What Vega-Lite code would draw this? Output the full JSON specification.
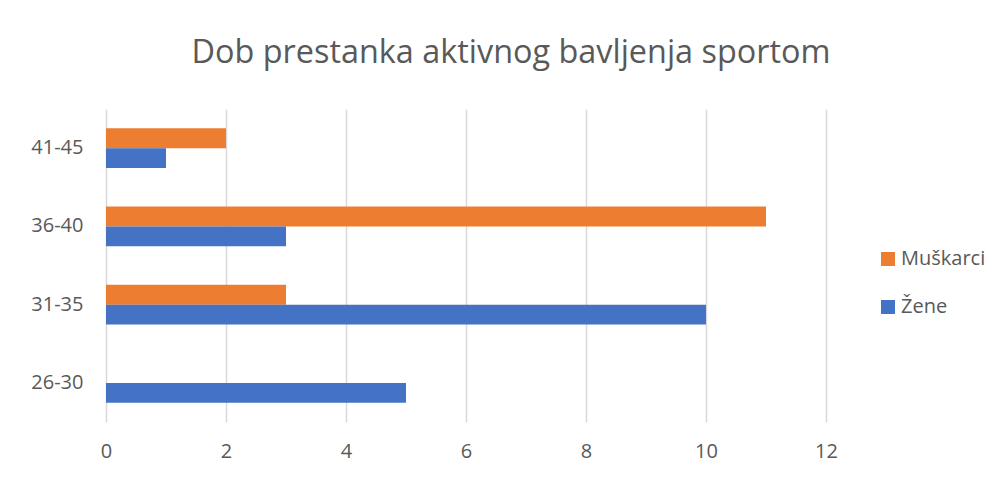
{
  "$schema": "https://vega.github.io/schema/vega-lite/v6.json",
  "autosize": {"type": "none"},
  "width": 720,
  "height": 313,
  "padding": {"left": 106, "top": 109, "right": 176, "bottom": 55},
  "background": "white",
  "title": {
    "text": "Dob prestanka aktivnog bavljenja sportom",
    "font": "Open Sans",
    "fontSize": 32.4,
    "fontWeight": "normal",
    "color": "#595959",
    "anchor": "middle",
    "frame": "group",
    "dx": 45,
    "offset": 14,
    "baseline": "alphabetic"
  },
  "data": {
    "values": [
      {"dob": "41-45", "spol": "Muškarci", "broj": 2},
      {"dob": "41-45", "spol": "Žene", "broj": 1},
      {"dob": "36-40", "spol": "Muškarci", "broj": 11},
      {"dob": "36-40", "spol": "Žene", "broj": 3},
      {"dob": "31-35", "spol": "Muškarci", "broj": 3},
      {"dob": "31-35", "spol": "Žene", "broj": 10},
      {"dob": "26-30", "spol": "Muškarci", "broj": 0},
      {"dob": "26-30", "spol": "Žene", "broj": 5}
    ]
  },
  "mark": {"type": "bar"},
  "encoding": {
    "y": {
      "field": "dob",
      "type": "nominal",
      "sort": ["41-45", "36-40", "31-35", "26-30"],
      "scale": {"paddingInner": 0.49, "paddingOuter": 0.245},
      "axis": {
        "title": null,
        "domain": false,
        "ticks": false,
        "grid": false,
        "labelFont": "Open Sans",
        "labelFontSize": 20,
        "labelColor": "#595959",
        "labelPadding": 23
      }
    },
    "yOffset": {
      "field": "spol",
      "type": "nominal",
      "sort": ["Muškarci", "Žene"],
      "scale": {"paddingInner": 0, "paddingOuter": 0}
    },
    "x": {
      "field": "broj",
      "type": "quantitative",
      "scale": {"domain": [0, 12], "nice": false},
      "axis": {
        "title": null,
        "values": [0, 2, 4, 6, 8, 10, 12],
        "domain": false,
        "ticks": false,
        "grid": true,
        "gridColor": "#d9d9d9",
        "gridWidth": 1.5,
        "labelFlush": false,
        "labelFont": "Open Sans",
        "labelFontSize": 20,
        "labelColor": "#595959",
        "labelPadding": 19
      }
    },
    "color": {
      "field": "spol",
      "type": "nominal",
      "sort": ["Muškarci", "Žene"],
      "scale": {"domain": ["Muškarci", "Žene"], "range": ["#ED7D31", "#4472C4"]},
      "legend": {
        "title": null,
        "orient": "none",
        "legendX": 772,
        "legendY": 140,
        "symbolType": "square",
        "symbolSize": 196,
        "symbolStrokeWidth": 0,
        "labelFont": "Open Sans",
        "labelFontSize": 20,
        "labelColor": "#595959",
        "rowPadding": 28,
        "labelOffset": 3
      }
    }
  },
  "config": {
    "view": {"stroke": null}
  }
}
